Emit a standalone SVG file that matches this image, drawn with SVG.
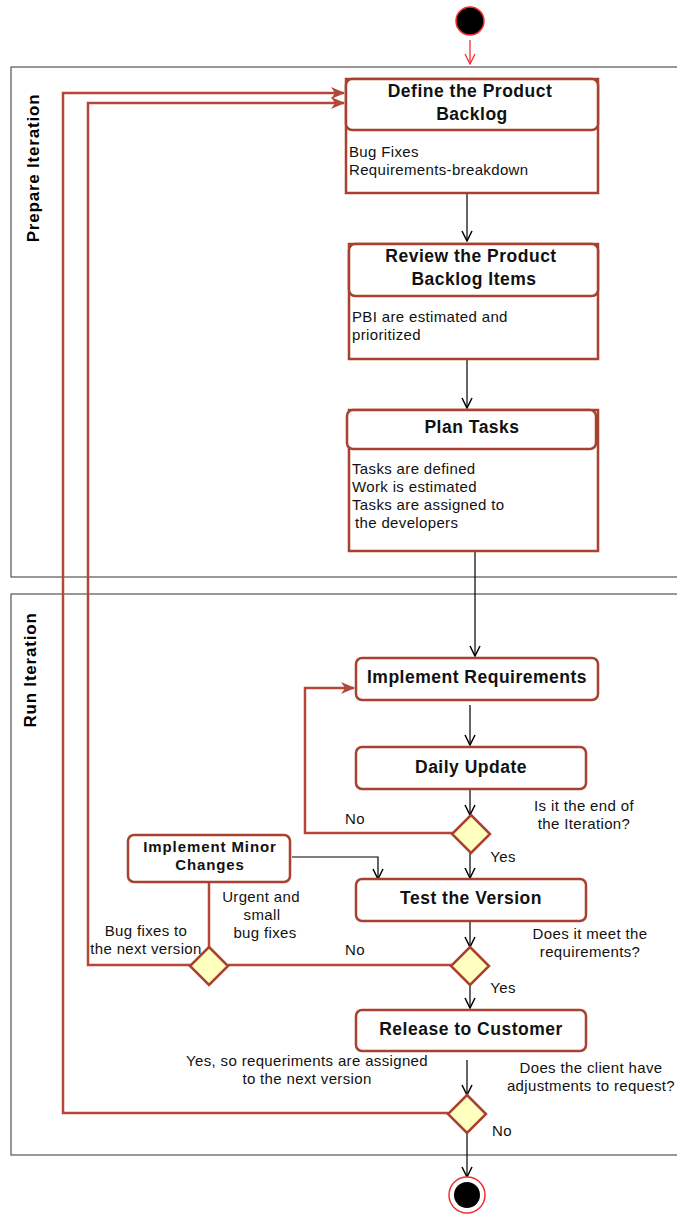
<svg xmlns="http://www.w3.org/2000/svg" width="677" height="1214" viewBox="0 0 677 1214">
<style>
.lane{fill:#fff;stroke:#333;stroke-width:1}
.lanelbl{font-family:"Liberation Sans",Arial,sans-serif;font-size:17px;letter-spacing:0.8px;font-weight:bold;fill:#000;text-anchor:middle}
.box{fill:#fff;stroke:#a8412f;stroke-width:2.5}
.hdr{font-family:"Liberation Sans",Arial,sans-serif;font-size:17.5px;letter-spacing:0.5px;font-weight:bold;fill:#111;text-anchor:middle}
.hdrs{font-family:"Liberation Sans",Arial,sans-serif;font-size:15px;letter-spacing:0.9px;font-weight:bold;fill:#111;text-anchor:middle}
.body{font-family:"Liberation Sans",Arial,sans-serif;font-size:15px;letter-spacing:0.35px;fill:#111}
.lbl{font-family:"Liberation Sans",Arial,sans-serif;font-size:15px;letter-spacing:0.35px;fill:#111;text-anchor:middle}
.dia{fill:#ffffc0;stroke:#a8412f;stroke-width:2.5}
.blk{fill:none;stroke:#000;stroke-width:1.2}
.red{fill:none;stroke:#b5473a;stroke-width:2.5}
</style>
<defs>
<marker id="ab" viewBox="0 0 12 12" refX="11" refY="6" markerWidth="12" markerHeight="12" markerUnits="userSpaceOnUse" orient="auto">
<path d="M1,1 L11,6 L1,11" fill="none" stroke="#000" stroke-width="1.5"/>
</marker>
<marker id="ar" viewBox="0 0 14 12" refX="13" refY="6" markerWidth="14" markerHeight="12" markerUnits="userSpaceOnUse" orient="auto">
<path d="M0,0 L14,6 L0,12 L4,6 Z" fill="#b5473a"/>
</marker>
<marker id="ars" viewBox="0 0 12 12" refX="11" refY="6" markerWidth="12" markerHeight="12" markerUnits="userSpaceOnUse" orient="auto">
<path d="M1,1 L11,6 L1,11" fill="none" stroke="#f03030" stroke-width="1.3"/>
</marker>
</defs>

<g id="lanes">
<rect class="lane" x="11" y="67" width="700" height="510"/>
<text class="lanelbl" transform="translate(39,168) rotate(-90)">Prepare Iteration</text>
<rect class="lane" x="11" y="594" width="700" height="561"/>
<text class="lanelbl" transform="translate(36,670) rotate(-90)">Run Iteration</text>
</g>

<g id="connectors">
<line x1="470" y1="40" x2="470" y2="64" stroke="#f03030" stroke-width="1.3" marker-end="url(#ars)"/>
<line class="blk" x1="467" y1="194" x2="467" y2="241" marker-end="url(#ab)"/>
<line class="blk" x1="467" y1="360" x2="467" y2="408" marker-end="url(#ab)"/>
<line class="blk" x1="475" y1="552" x2="475" y2="656" marker-end="url(#ab)"/>
<line class="blk" x1="470" y1="705" x2="470" y2="745" marker-end="url(#ab)"/>
<line class="blk" x1="470" y1="790" x2="470" y2="815" marker-end="url(#ab)"/>
<polyline class="red" points="453,833 305,833 305,688 354,688" marker-end="url(#ar)"/>
<line class="blk" x1="470" y1="853" x2="470" y2="878" marker-end="url(#ab)"/>
<polyline class="blk" points="292,857 378,857 378,879" marker-end="url(#ab)"/>
<line class="blk" x1="470" y1="922" x2="470" y2="947" marker-end="url(#ab)"/>
<line class="red" x1="452" y1="965" x2="228" y2="965"/>
<line class="red" x1="209" y1="883" x2="209" y2="947"/>
<polyline class="red" points="191,965 88,965 88,103 344,103" marker-end="url(#ar)"/>
<line class="blk" x1="470" y1="985" x2="470" y2="1008" marker-end="url(#ab)"/>
<line class="blk" x1="467" y1="1060" x2="467" y2="1095" marker-end="url(#ab)"/>
<polyline class="red" points="448,1113 63,1113 63,93 344,93" marker-end="url(#ar)"/>
<line class="blk" x1="467" y1="1133" x2="467" y2="1177" marker-end="url(#ab)"/>
</g>

<g id="start">
<circle cx="470" cy="21" r="14" fill="#000" stroke="#f03030" stroke-width="1.5"/>
</g>

<g id="define">
<rect class="box" x="346" y="79" width="252" height="114"/>
<rect class="box" x="346" y="79" width="252" height="51" rx="6"/>
<text class="hdr" x="470" y="97">Define the Product</text>
<text class="hdr" x="472" y="120">Backlog</text>
<text class="body" x="349" y="157">Bug Fixes</text>
<text class="body" x="349" y="175">Requirements-breakdown</text>
</g>

<g id="review">
<rect class="box" x="349" y="244" width="249" height="115"/>
<rect class="box" x="349" y="244" width="249" height="52" rx="6"/>
<text class="hdr" x="471" y="262">Review the Product</text>
<text class="hdr" x="474" y="285">Backlog Items</text>
<text class="body" x="352" y="322">PBI are estimated and</text>
<text class="body" x="352" y="340">prioritized</text>
</g>

<g id="plan">
<rect class="box" x="349" y="410" width="249" height="141"/>
<rect class="box" x="347" y="410" width="249" height="39" rx="6"/>
<text class="hdr" x="472" y="433">Plan Tasks</text>
<text class="body" x="352" y="474">Tasks are defined</text>
<text class="body" x="352" y="492">Work is estimated</text>
<text class="body" x="352" y="510">Tasks are assigned to</text>
<text class="body" x="355" y="528">the developers</text>
</g>

<g id="implement">
<rect class="box" x="356" y="658" width="242" height="42" rx="6"/>
<text class="hdr" x="477" y="683">Implement Requirements</text>
</g>

<g id="daily">
<rect class="box" x="356" y="747" width="230" height="42" rx="6"/>
<text class="hdr" x="471" y="773">Daily Update</text>
</g>

<g id="decision1">
<polygon class="dia" points="471,815 490,834 471,853 452,834"/>
<text class="lbl" x="355" y="824">No</text>
<text class="lbl" x="584" y="811">Is it the end of</text>
<text class="lbl" x="584" y="829">the Iteration?</text>
<text class="lbl" x="503" y="862">Yes</text>
</g>

<g id="minor">
<rect class="box" x="128" y="835" width="162" height="47" rx="6"/>
<text class="hdrs" x="210" y="852">Implement Minor</text>
<text class="hdrs" x="210" y="870">Changes</text>
<text class="lbl" x="261" y="902">Urgent and</text>
<text class="lbl" x="262" y="920">small</text>
<text class="lbl" x="265" y="938">bug fixes</text>
</g>

<g id="test">
<rect class="box" x="356" y="879" width="230" height="42" rx="6"/>
<text class="hdr" x="471" y="904">Test the Version</text>
</g>

<g id="decision2">
<polygon class="dia" points="470,947 489,966 470,985 451,966"/>
<text class="lbl" x="355" y="955">No</text>
<text class="lbl" x="590" y="939">Does it meet the</text>
<text class="lbl" x="590" y="957">requirements?</text>
<text class="lbl" x="503" y="993">Yes</text>
</g>

<g id="decision3">
<polygon class="dia" points="209,947 228,966 209,985 190,966"/>
<text class="lbl" x="146" y="936">Bug fixes to</text>
<text class="lbl" x="146" y="954">the next version</text>
</g>

<g id="release">
<rect class="box" x="356" y="1010" width="230" height="41" rx="6"/>
<text class="hdr" x="471" y="1035">Release to Customer</text>
</g>

<g id="decision4">
<polygon class="dia" points="467,1095 486,1114 467,1133 448,1114"/>
<text class="lbl" x="307" y="1066">Yes, so requeriments are assigned</text>
<text class="lbl" x="307" y="1084">to the next version</text>
<text class="lbl" x="591" y="1073">Does the client have</text>
<text class="lbl" x="591" y="1091">adjustments to request?</text>
<text class="lbl" x="502" y="1136">No</text>
</g>

<g id="end">
<circle cx="467" cy="1195" r="18" fill="#fff" stroke="#f03030" stroke-width="1.5"/>
<circle cx="467" cy="1195" r="13" fill="#000"/>
</g>
</svg>
